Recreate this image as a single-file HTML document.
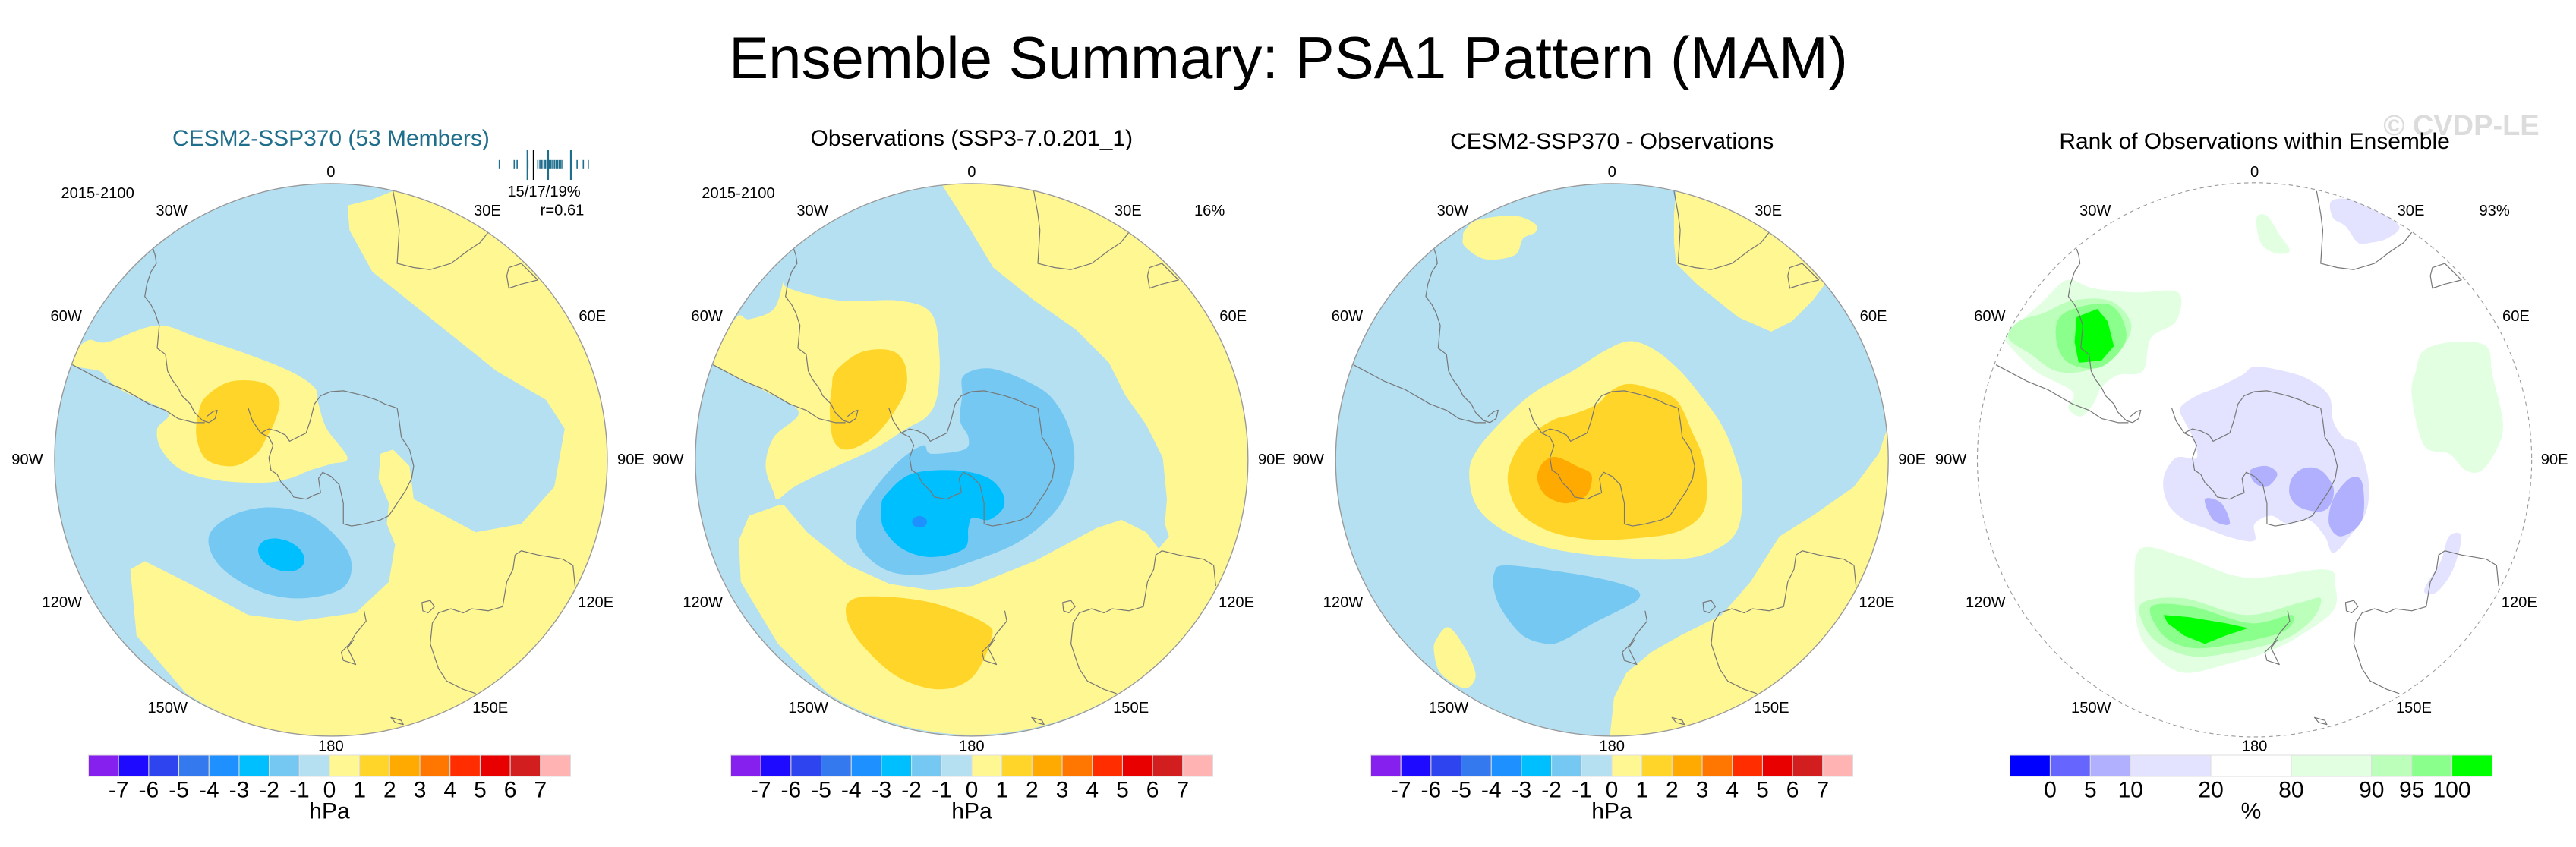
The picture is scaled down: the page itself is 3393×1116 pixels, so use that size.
<!DOCTYPE html>
<html><head><meta charset="utf-8">
<style>
html,body{margin:0;padding:0;background:#fff;}
svg{display:block;font-family:"Liberation Sans",sans-serif;}
</style></head>
<body>
<svg id="fig" width="3393" height="1116" viewBox="0 0 3393 1116" xmlns="http://www.w3.org/2000/svg">
<defs>
  <clipPath id="c1"><circle cx="800" cy="855" r="668"/></clipPath>
  <clipPath id="c2"><circle cx="798" cy="855" r="668"/></clipPath>
  <clipPath id="c3"><circle cx="795" cy="855" r="668"/></clipPath>
  <clipPath id="c4"><circle cx="770" cy="855" r="670"/></clipPath>
  <g id="coast" fill="none" stroke="#777" stroke-width="2.2" stroke-linejoin="round">
    <polyline points="370,345 375,360 378,380 365,400 355,430 350,460 365,480 375,500 385,530 380,585 400,600 405,640 415,660 430,680 440,700 460,720 470,740 490,760 505,765"/>
    <polyline points="175,625 250,665 300,685 360,720 400,735 430,755 470,765 495,765"/>
    <polyline points="500,750 515,738 525,735 520,755 505,765"/>
    <polyline points="600,730 610,760 630,790 650,800 660,820 650,850 655,880 670,890 680,910 700,930 710,945 740,950 760,940 775,935 770,900 780,885 800,895 820,915 830,960 830,1010 850,1015 880,1010 920,1000 940,990 960,960 980,930 995,900 1000,870 990,830 970,800 965,760 960,730 930,720 910,710 880,700 860,695 830,688 800,690 775,700 760,720 750,760 740,790 720,800 700,810 690,795 670,785 650,780 630,790"/>
    <polyline points="950,205 960,260 965,300 960,380 1000,390 1040,395 1090,380 1130,350 1160,330 1180,305"/>
    <polygon points="1230,390 1260,380 1300,420 1260,430 1230,440 1225,410"/>
    <polyline points="1390,1160 1385,1110 1360,1095 1300,1085 1260,1075 1245,1085 1240,1120 1225,1150 1215,1210 1180,1220 1140,1215 1120,1225 1090,1215 1060,1225 1045,1250 1040,1300 1060,1360 1080,1390 1120,1410 1150,1420"/>
    <polygon points="1020,1200 1040,1195 1050,1210 1035,1225 1022,1220"/>
    <polyline points="880,1220 885,1245 860,1275 845,1300 825,1320 830,1340 860,1350 840,1310 855,1290"/>
    <polygon points="945,1478 970,1485 975,1495 955,1490"/>
  </g>
</defs>

<text x="1697" y="76" font-size="78" text-anchor="middle" dominant-baseline="central" fill="#000">Ensemble Summary: PSA1 Pattern (MAM)</text>
<text x="3242" y="166" font-size="38" font-weight="bold" text-anchor="middle" dominant-baseline="central" fill="#dcdcdc">© CVDP-LE</text>

<!-- PANEL 1 -->
<g transform="translate(0,140) scale(0.5449)">
  <g clip-path="url(#c1)">
    <circle cx="800" cy="855" r="668" fill="#B4E0F2"/>
    <path fill="#FFF791" d="M950,205 A668,668 0 1 1 450,1420 L330,1280 315,1120 350,1100 450,1150 600,1230 720,1245 860,1225 940,1150 955,1060 935,1010 940,960 915,900 920,840 950,830 990,870 1000,950 1150,1030 1260,1010 1340,920 1365,780 1320,710 1200,640 1050,520 900,400 845,300 840,240 900,225 Z"/>
    <polygon class="sm" fill="#FFF791" points="185,590 215,565 260,570 380,530 480,560 600,600 700,640 760,680 770,720 790,780 840,850 800,865 750,880 700,900 640,910 530,905 440,880 390,830 380,780 405,740 300,690 260,660 240,640 175,625"/>
    <polygon class="sm" fill="#FFD52A" points="500,700 560,665 640,670 675,710 665,760 645,800 620,840 565,870 500,855 475,800 480,740"/>
    <polygon class="sm" fill="#75C8F2" points="505,1040 560,990 650,970 750,990 830,1060 850,1120 820,1170 720,1190 620,1170 530,1110"/>
    <ellipse cx="680" cy="1085" rx="58" ry="37" transform="rotate(20 680 1085)" fill="#00BFFF"/>
    <use href="#coast"/>
  </g>
  <circle cx="800" cy="855" r="668" fill="none" stroke="#999" stroke-width="2.5"/>
  <text x="800" y="78" font-size="55" text-anchor="middle" dominant-baseline="central" fill="#1F6E8C">CESM2-SSP370 (53 Members)</text>
  <text x="236" y="211" font-size="37" text-anchor="middle" dominant-baseline="central">2015-2100</text>
  <text x="1315" y="207" font-size="37" text-anchor="middle" dominant-baseline="central">15/17/19%</text>
  <text x="1412" y="252" font-size="37" text-anchor="end" dominant-baseline="central">r=0.61</text>
  <g id="rug"></g>
  <g class="lonlabels" data-dx="0"></g>
</g>

<!-- PANEL 2 -->
<g transform="translate(845,140) scale(0.5449)">
  <g clip-path="url(#c2)">
    <circle cx="798" cy="855" r="668" fill="#B4E0F2"/>
    <path fill="#FFF791" d="M725,188 A668,668 0 1 1 450,1420 L330,1300 240,1150 235,1050 260,990 330,965 345,965 400,1030 500,1110 600,1155 700,1170 800,1160 950,1100 1100,1020 1160,1000 1220,1030 1250,1070 1275,1040 1265,1010 1270,950 1260,850 1220,770 1170,700 1130,620 1050,540 950,470 850,390 790,290 Z"/>
    <polygon class="sm" fill="#FFF791" points="175,600 230,510 260,515 320,490 345,420 355,440 480,470 620,470 700,500 720,600 715,700 690,750 640,780 560,830 450,880 370,920 330,950 320,935 300,870 320,800 380,740 300,690 175,625"/>
    <polygon class="sm" fill="#FFD52A" points="470,640 530,595 600,590 635,620 640,680 610,740 560,800 500,830 465,810 455,740 460,680"/>
    <polygon class="sm" fill="#FFD52A" points="500,1200 560,1185 700,1200 830,1250 845,1290 800,1380 720,1410 620,1380 540,1310 500,1250"/>
    <polygon class="sm" fill="#75C8F2" points="780,650 850,635 960,680 1010,730 1040,800 1045,870 1020,950 970,1010 900,1060 800,1100 700,1130 600,1125 530,1070 520,1000 560,930 620,860 680,820 700,840 780,830 790,800 770,760 775,700"/>
    <polygon class="sm" fill="#00BFFF" points="590,940 650,890 750,880 830,895 870,930 875,970 840,1000 800,995 790,1020 780,1070 700,1090 630,1070 585,1020 580,970"/>
    <ellipse cx="672" cy="1005" rx="18" ry="14" fill="#1E90FF"/>
    <use href="#coast" x="-2"/>
  </g>
  <circle cx="798" cy="855" r="668" fill="none" stroke="#999" stroke-width="2.5"/>
  <text x="798" y="78" font-size="55" text-anchor="middle" dominant-baseline="central">Observations (SSP3-7.0.201_1)</text>
  <text x="234" y="211" font-size="37" text-anchor="middle" dominant-baseline="central">2015-2100</text>
  <text x="1373" y="253" font-size="37" text-anchor="middle" dominant-baseline="central">16%</text>
  <g class="lonlabels" data-dx="-2"></g>
</g>

<!-- PANEL 3 -->
<g transform="translate(1690,140) scale(0.5449)">
  <g clip-path="url(#c3)">
    <circle cx="795" cy="855" r="668" fill="#B4E0F2"/>
    <polygon class="sm" fill="#FFF791" points="440,300 470,275 560,265 610,285 610,305 580,320 560,360 490,370 440,340 435,315"/>
    <path fill="#FFF791" d="M950,205 L945,260 945,330 950,380 1000,430 1100,510 1180,545 1230,520 1280,470 1310,430 A668,668 0 0 0 950,205 Z"/>
    <path fill="#FFF791" d="M1460,780 L1440,840 1380,920 1280,990 1200,1040 1130,1150 1060,1230 960,1280 890,1320 830,1370 800,1430 790,1523 A668,668 0 0 0 1460,780 Z"/>
    <polygon class="sm" fill="#FFF791" points="370,1290 400,1260 440,1310 465,1370 455,1400 430,1405 380,1370 365,1320"/>
    <polygon class="sm" fill="#FFF791" points="450,890 470,830 540,750 610,690 700,640 780,590 840,568 900,590 960,640 1010,700 1060,770 1090,840 1110,920 1100,1020 1050,1070 960,1095 800,1090 650,1070 540,1030 470,970"/>
    <polygon class="sm" fill="#FFD52A" points="545,880 580,810 650,760 700,745 760,720 790,690 830,672 880,680 950,710 990,790 1015,850 1025,930 1010,990 950,1030 850,1045 750,1048 650,1030 580,990 550,940"/>
    <polygon class="sm" fill="#FFAA00" points="615,890 630,860 660,848 710,870 745,890 740,930 720,950 680,960 640,945 620,920"/>
    <polygon class="sm" fill="#75C8F2" points="510,1130 540,1110 700,1130 800,1150 855,1170 860,1190 830,1210 750,1250 680,1290 640,1300 580,1280 530,1220 510,1170"/>
    <use href="#coast" x="-5"/>
  </g>
  <circle cx="795" cy="855" r="668" fill="none" stroke="#999" stroke-width="2.5"/>
  <text x="795" y="85" font-size="55" text-anchor="middle" dominant-baseline="central">CESM2-SSP370 - Observations</text>
  <g class="lonlabels" data-dx="-5"></g>
</g>

<!-- PANEL 4 -->
<g transform="translate(2550,140) scale(0.5449)">
  <g clip-path="url(#c4)">
    <circle cx="770" cy="855" r="670" fill="#fff"/>
    <polygon class="sm" fill="#E2FFE2" points="170,550 250,480 300,430 330,420 380,440 480,450 585,450 580,520 520,560 500,640 440,650 400,680 380,720 350,750 320,730 330,690 240,640 170,570"/>
    <polygon class="sm" fill="#BBFFBB" points="200,520 260,500 330,470 420,470 470,520 460,570 420,610 360,640 290,640 230,600 175,560"/>
    <polygon class="sm" fill="#8BFF8B" points="310,500 420,480 460,560 400,630 320,620 290,560"/>
    <polygon fill="#00FF00" points="340,510 390,490 415,520 430,580 400,615 345,620 335,570"/>
    <polygon class="sm" fill="#E2FFE2" points="775,270 800,265 830,310 855,350 820,355 785,330"/>
    <polygon class="sm" fill="#E2FFE2" points="1180,590 1250,570 1330,580 1345,650 1370,760 1360,820 1320,880 1280,880 1240,840 1180,820 1150,700 1160,640"/>
    <polygon class="sm" fill="#E3E3FF" points="955,230 1000,225 1060,250 1120,290 1090,320 1050,330 1020,330 990,290 960,270"/>
    <polygon class="sm" fill="#E3E3FF" points="590,730 630,700 680,680 740,650 770,630 840,640 900,660 950,700 960,760 985,800 1020,820 1045,900 1040,980 1000,1040 960,1080 940,1040 900,1000 850,1010 810,990 770,1010 770,1050 720,1045 650,1020 600,1000 560,960 550,900 580,850 630,850 620,800 600,760"/>
    <polygon class="sm" fill="#B0B0FF" points="860,900 890,875 930,880 960,920 955,960 930,980 880,970 855,940"/>
    <polygon class="sm" fill="#B0B0FF" points="960,950 1000,900 1030,910 1030,1000 980,1040 950,1010"/>
    <polygon class="sm" fill="#B0B0FF" points="760,880 800,870 825,890 800,920 770,910"/>
    <polygon class="sm" fill="#B0B0FF" points="650,950 690,960 710,1010 670,1000"/>
    <polygon class="sm" fill="#E2FFE2" points="495,1070 600,1090 750,1140 940,1120 965,1160 960,1220 880,1280 800,1320 700,1350 600,1370 530,1330 490,1270 480,1170"/>
    <polygon class="sm" fill="#BBFFBB" points="500,1200 600,1190 750,1230 880,1200 930,1190 910,1240 840,1290 720,1320 620,1330 540,1300 500,1250"/>
    <polygon class="sm" fill="#8BFF8B" points="520,1210 620,1210 760,1250 860,1230 840,1270 720,1300 620,1310 550,1280"/>
    <polygon fill="#00FF00" points="550,1230 610,1235 700,1250 755,1262 700,1280 650,1300 600,1280 560,1250"/>
    <polygon class="sm" fill="#E3E3FF" points="1180,1170 1220,1100 1240,1040 1270,1040 1250,1120 1210,1175"/>
    <use href="#coast" x="-30"/>
  </g>
  <circle cx="770" cy="855" r="670" fill="none" stroke="#999" stroke-width="2" stroke-dasharray="10 8"/>
  <text x="770" y="85" font-size="55" text-anchor="middle" dominant-baseline="central">Rank of Observations within Ensemble</text>
  <text x="1350" y="253" font-size="37" text-anchor="middle" dominant-baseline="central">93%</text>
  <g class="lonlabels" data-dx="-30"></g>
</g>

<g id="colorbars"></g>
</svg>

<script>
// ---- colorbar data ----
const hpaLevels = [-7,-6,-5,-4,-3,-2,-1,0,1,2,3,4,5,6,7];
const hpaColors = ["#8620EE","#1E0AFF","#2D44EE","#3479EE","#1E90FF","#00BFFF","#75C8F2","#B4E0F2","#FFF791","#FFD52A","#FFAA00","#FF7700","#FF2D00","#E80000","#D21E1E","#FFB3B3"];
const rankLevels = [0,5,10,20,80,90,95,100];
const rankColors = ["#0000FF","#6666FF","#B0B0FF","#E3E3FF","#FFFFFF","#E2FFE2","#BBFFBB","#8BFF8B","#00FF00"];
const rankWidths = [1,1,1,2,2,2,1,1,1];
const rugValues = [1207,1243,1250,1276,1290,1300,1305,1310,1315,1318,1322,1325,1328,1332,1336,1340,1344,1348,1352,1356,1360,1380,1395,1410,1422];
const rugMajor = [1275,1290,1325,1380];
const lonNames = ["0","30W","30E","60W","60E","90W","90E","120W","120E","150W","150E","180"];
const lonX = [800,415,1178,160,1432,66,1525,150,1440,405,1185,800];
const lonY = [160,253,253,508,508,855,855,1200,1200,1455,1455,1548];

const NS = "http://www.w3.org/2000/svg";
function mk(tag, attrs, parent){ const e=document.createElementNS(NS,tag); for(const k in attrs) e.setAttribute(k,attrs[k]); parent.appendChild(e); return e; }

// smooth polygons
document.querySelectorAll("polygon.sm").forEach(p=>{
  const nums=p.getAttribute("points").trim().split(/[\s,]+/).map(Number);
  const pts=[]; for(let i=0;i<nums.length;i+=2) pts.push([nums[i],nums[i+1]]);
  const n=pts.length; let d="M"+pts[0][0]+","+pts[0][1];
  for(let i=0;i<n;i++){
    const p0=pts[(i-1+n)%n],p1=pts[i],p2=pts[(i+1)%n],p3=pts[(i+2)%n];
    const c1=[p1[0]+(p2[0]-p0[0])/6,p1[1]+(p2[1]-p0[1])/6];
    const c2=[p2[0]-(p3[0]-p1[0])/6,p2[1]-(p3[1]-p1[1])/6];
    d+=" C"+c1[0].toFixed(1)+","+c1[1].toFixed(1)+" "+c2[0].toFixed(1)+","+c2[1].toFixed(1)+" "+p2[0]+","+p2[1];
  }
  d+="Z";
  const path=document.createElementNS(NS,"path");
  path.setAttribute("d",d);
  path.setAttribute("fill",p.getAttribute("fill"));
  
  
  p.parentNode.replaceChild(path,p);
});

// longitude labels
document.querySelectorAll("g.lonlabels").forEach(g=>{
  const dx=Number(g.getAttribute("data-dx"));
  
  
  lonNames.forEach((t,i)=>{
    const e=mk("text",{x:lonX[i]+dx,y:lonY[i],"font-size":"37","text-anchor":"middle","dominant-baseline":"central"},g);
    
    
    e.textContent=t;
  });
});

// rug
const rug=document.getElementById("rug");
rugValues.forEach(v=>{
  const l=mk("line",{x1:v,x2:v,y1:130,y2:152,stroke:"#1F6E8C","stroke-width":"3"},rug);
  
  
});
rugMajor.forEach((v,i)=>{
  const l=mk("line",{x1:v,x2:v,y1:106,y2:178,stroke:i===1?"#000":"#1F6E8C","stroke-width":"4"},rug);
  
  
});

// colorbars
const cb=document.getElementById("colorbars");
const barY=995, barH=28, barW=635;
function hpaBar(cx){
  const g=mk("g",{},cb);
  
  
  const x0=cx-barW/2, w=barW/hpaColors.length;
  hpaColors.forEach((c,i)=>{
    const r=mk("rect",{x:x0+i*w,y:barY,width:w,height:barH,fill:c,stroke:"#ddd","stroke-width":"1"},g);
    
    
  });
  hpaLevels.forEach((v,i)=>{
    const t=mk("text",{x:x0+(i+1)*w,y:1041,"font-size":"30","text-anchor":"middle","dominant-baseline":"central"},g);
    
    
    t.textContent=v;
  });
  const u=mk("text",{x:cx,y:1069,"font-size":"30","text-anchor":"middle","dominant-baseline":"central"},g);
  
  
  u.textContent="hPa";
}
hpaBar(434); hpaBar(1280); hpaBar(2123);
(function(){
  const cx=2965;
  const g=mk("g",{},cb);
  
  
  const total=rankWidths.reduce((a,b)=>a+b,0), unit=barW/total;
  let x=cx-barW/2; const bounds=[];
  rankColors.forEach((c,i)=>{
    const w=rankWidths[i]*unit;
    const r=mk("rect",{x:x,y:barY,width:w,height:barH,fill:c,stroke:"#ddd","stroke-width":"1"},g);
    
    
    x+=w; bounds.push(x);
  });
  rankLevels.forEach((v,i)=>{
    const t=mk("text",{x:bounds[i],y:1041,"font-size":"30","text-anchor":"middle","dominant-baseline":"central"},g);
    
    
    t.textContent=v;
  });
  const u=mk("text",{x:cx,y:1069,"font-size":"30","text-anchor":"middle","dominant-baseline":"central"},g);
  
  
  u.textContent="%";
})();
</script>
</body></html>
